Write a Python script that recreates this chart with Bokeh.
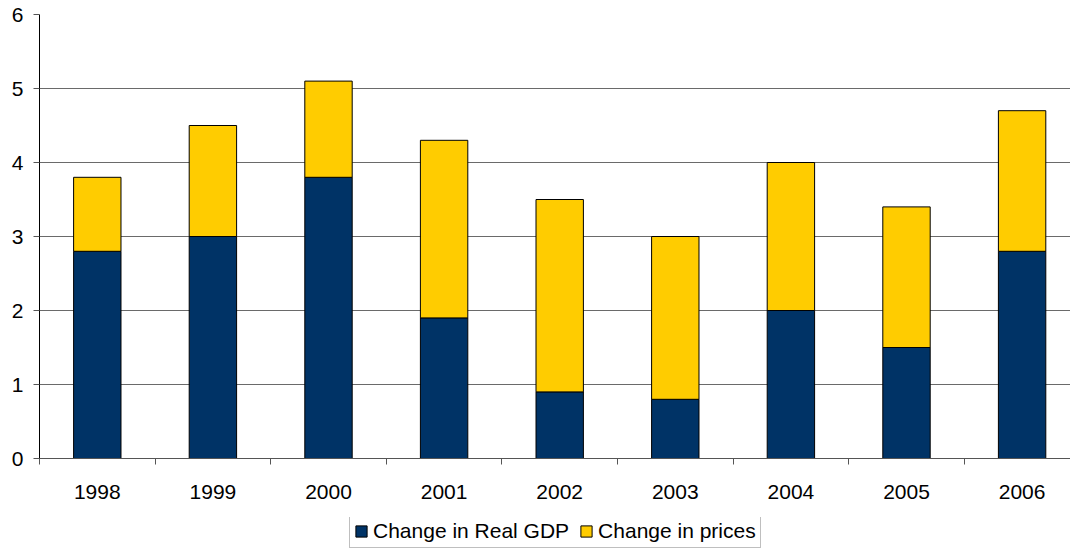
from bokeh.plotting import figure
from bokeh.models import ColumnDataSource, Range1d, FixedTicker, Legend, LegendItem
from bokeh.layouts import column
from bokeh.embed import file_html
from bokeh.resources import INLINE

years = ["1998", "1999", "2000", "2001", "2002", "2003", "2004", "2005", "2006"]
real_gdp = [2.8, 3.0, 3.8, 1.9, 0.9, 0.8, 2.0, 1.5, 2.8]
prices = [1.0, 1.5, 1.3, 2.4, 2.6, 2.2, 2.0, 1.9, 1.9]
series_names = ["Change in Real GDP", "Change in prices"]
y_ticks = [0, 1, 2, 3, 4, 5, 6]

NAVY = "#003366"
GOLD = "#FFCC00"
FONT = "Liberation Sans"

xs = list(range(len(years)))
source = ColumnDataSource(dict(x=xs, gdp=real_gdp, prices=prices))

p = figure(width=1070, height=517, output_backend="svg", toolbar_location=None,
           x_range=Range1d(-0.5, -0.5 + 1031 / 115.6), y_range=Range1d(0, 6),
           min_border_left=39, min_border_right=0, min_border_top=14,
           min_border_bottom=59)
p.outline_line_color = None
p.background_fill_color = "white"
p.border_fill_color = "white"

p.vbar_stack(["gdp", "prices"], x="x", width=0.41, source=source,
             fill_color=[NAVY, GOLD], line_color="black", line_width=1)

# x axis: labels centred on each year, tick marks between categories
xa = p.xaxis[0]
xa.ticker = FixedTicker(ticks=xs, minor_ticks=[i + 0.5 for i in range(-1, len(years))])
xa.major_label_overrides = {i: y for i, y in enumerate(years)}
xa.major_tick_out = 0
xa.major_tick_in = 0
xa.minor_tick_out = 6
xa.minor_tick_in = 0
xa.minor_tick_line_color = "#555555"
xa.axis_line_color = "#555555"
xa.major_label_text_font = FONT
xa.major_label_text_font_size = "21px"
xa.major_label_text_color = "black"
xa.major_label_standoff = 20

ya = p.yaxis[0]
ya.ticker = FixedTicker(ticks=y_ticks)
ya.minor_tick_line_color = None
ya.major_tick_out = 6
ya.major_tick_in = 0
ya.axis_line_color = "black"
ya.major_tick_line_color = "#555555"
ya.major_label_text_font = FONT
ya.major_label_text_font_size = "21px"
ya.major_label_text_color = "black"
ya.major_label_standoff = 10

p.xgrid.grid_line_color = None
p.ygrid.ticker = FixedTicker(ticks=y_ticks)
p.ygrid.grid_line_color = "#6a6a6a"
p.ygrid.grid_line_width = 1

# legend strip underneath the chart; its swatch glyphs sit outside the visible range
lg = figure(width=1070, height=32, output_backend="svg", toolbar_location=None,
            x_axis_type=None, y_axis_type=None,
            min_border_left=39, min_border_right=0, min_border_top=0,
            min_border_bottom=0, x_range=Range1d(0, 1), y_range=Range1d(0, 1))
lg.outline_line_color = None
lg.xgrid.grid_line_color = None
lg.ygrid.grid_line_color = None
swatch_src = ColumnDataSource(dict(x=[-5], top=[-5]))
sw_gdp = lg.vbar(x="x", top="top", width=0.1, source=swatch_src,
                 fill_color=NAVY, line_color="black")
sw_prices = lg.vbar(x="x", top="top", width=0.1, source=swatch_src,
                    fill_color=GOLD, line_color="black")

legend = Legend(items=[LegendItem(label=series_names[0], renderers=[sw_gdp]),
                       LegendItem(label=series_names[1], renderers=[sw_prices])],
                orientation="horizontal", location=(310, 1))
legend.label_text_font = FONT
legend.label_text_font_size = "21px"
legend.label_text_color = "black"
legend.glyph_width = 14
legend.glyph_height = 14
legend.label_height = 20
legend.label_standoff = 5
legend.spacing = 10
legend.padding = 4
legend.margin = 0
legend.border_line_color = "#808080"
legend.border_line_width = 1
legend.background_fill_alpha = 1
lg.add_layout(legend, "center")

open("out.html", "w").write(file_html(column(p, lg, spacing=0), INLINE))
